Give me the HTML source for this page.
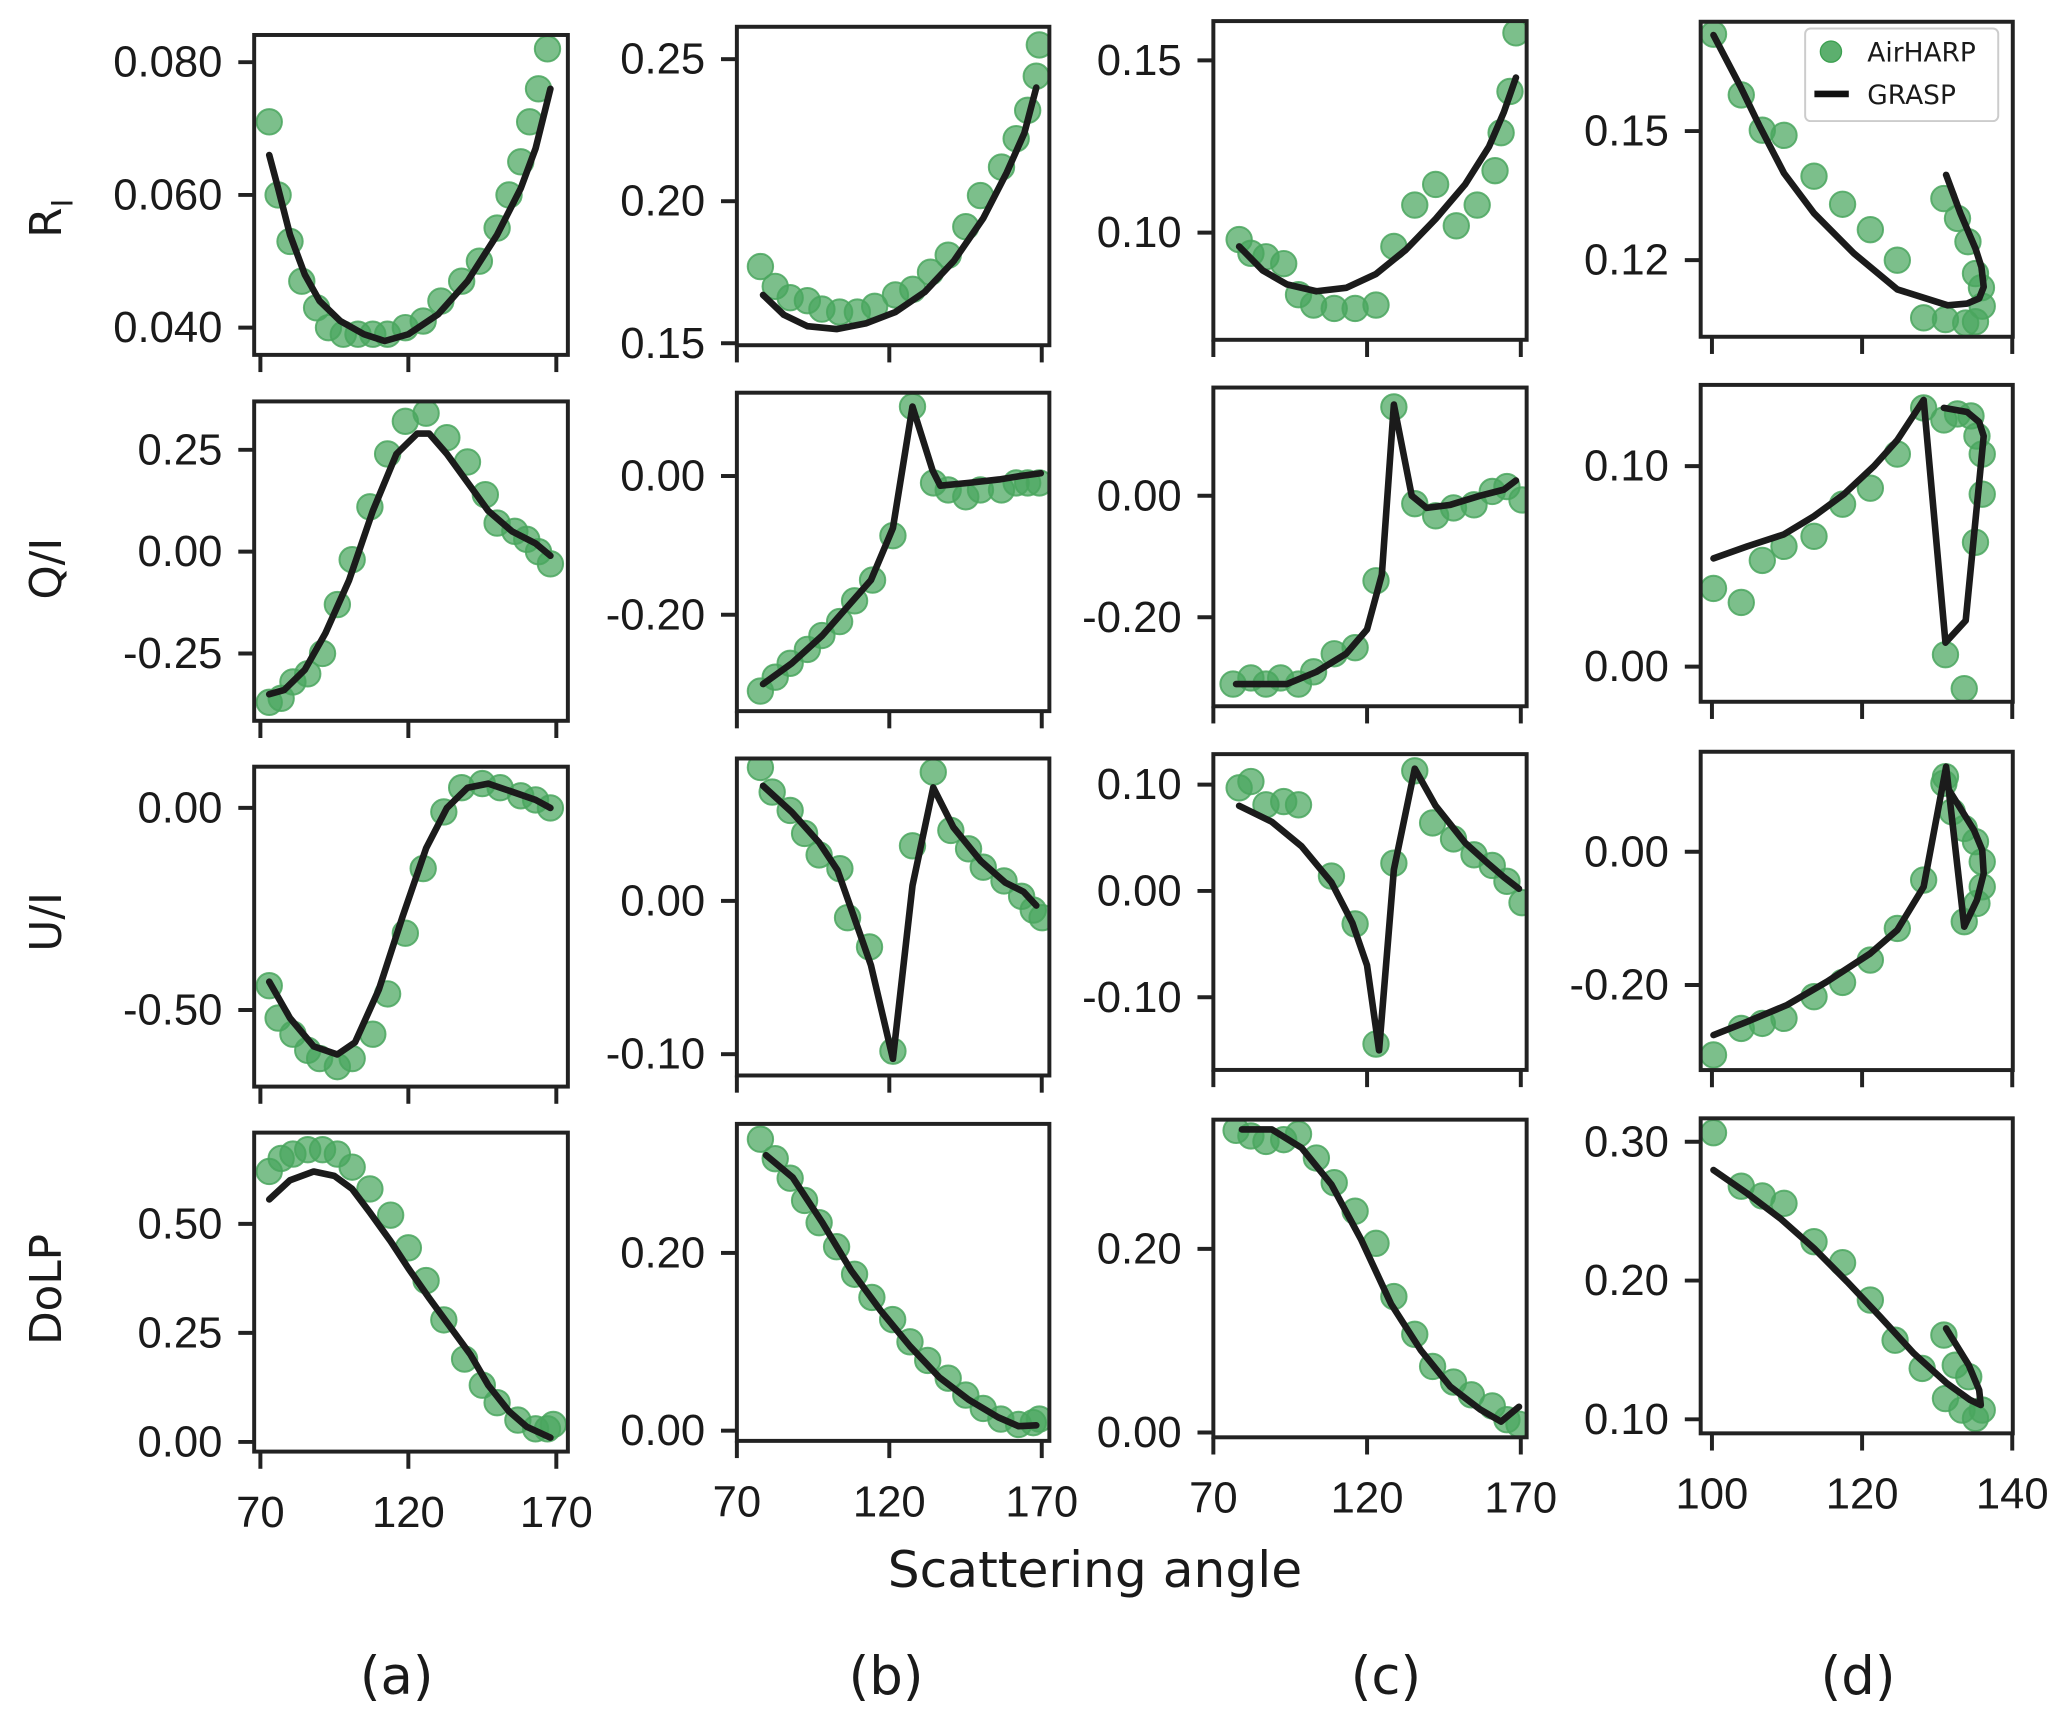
<!DOCTYPE html>
<html><head><meta charset="utf-8"><style>
html,body{margin:0;padding:0;background:#fff;}
svg{display:block;}
</style></head><body>
<svg id="fig" xmlns="http://www.w3.org/2000/svg" width="2067" height="1718" viewBox="0 0 1563 1299">
<rect x="0" y="0" width="1563" height="1299" fill="#fff"/>
</svg>
<script>
// ---------- data: columns a,b,c,d ; rows RI, Q/I, U/I, DoLP ----------
const a1PtsX=[73,76,80,84,89,93,98,103,108,113,119,125,131,138,144,150,154,158,161,164,167];
const a1PtsY=[0.071,0.060,0.053,0.047,0.043,0.040,0.039,0.039,0.039,0.039,0.040,0.041,0.044,0.047,0.050,0.055,0.060,0.065,0.071,0.076,0.082];
const a1LineX=[73,76,80,85,90,97,105,112,120,130,140,150,158,163,168];
const a1LineY=[0.066,0.061,0.054,0.048,0.044,0.041,0.039,0.038,0.039,0.042,0.047,0.054,0.061,0.067,0.076];
const a2PtsX=[73,77,81,86,91,96,101,107,113,119,126,133,140,146,150,156,160,164,168];
const a2PtsY=[-0.37,-0.36,-0.32,-0.30,-0.25,-0.13,-0.02,0.11,0.24,0.32,0.34,0.28,0.22,0.14,0.07,0.05,0.03,0.00,-0.03];
const a2LineX=[73,78,85,92,100,108,116,123,127,133,140,147,155,163,168];
const a2LineY=[-0.35,-0.34,-0.29,-0.20,-0.07,0.10,0.24,0.29,0.29,0.24,0.17,0.10,0.05,0.02,-0.01];
const a3PtsX=[73,76,81,86,90,96,101,108,113,119,125,132,138,145,151,158,163,168];
const a3PtsY=[-0.44,-0.52,-0.56,-0.60,-0.62,-0.64,-0.62,-0.56,-0.46,-0.31,-0.15,-0.01,0.05,0.06,0.05,0.03,0.02,0.00];
const a3LineX=[73,80,88,96,102,110,118,126,133,140,147,155,163,168];
const a3LineY=[-0.43,-0.52,-0.59,-0.61,-0.58,-0.45,-0.27,-0.10,0.00,0.05,0.06,0.04,0.02,0.00];
const a4PtsX=[73,77,81,86,91,96,101,107,114,120,126,132,139,145,150,157,163,167,169];
const a4PtsY=[0.62,0.65,0.66,0.67,0.67,0.66,0.63,0.58,0.52,0.445,0.37,0.28,0.19,0.13,0.09,0.05,0.03,0.03,0.04];
const a4LineX=[73,80,88,95,101,107,114,120,127,134,141,147,154,160,168];
const a4LineY=[0.556,0.60,0.62,0.61,0.58,0.526,0.46,0.398,0.33,0.265,0.20,0.13,0.07,0.035,0.01];

const b1PtsX=[77.7,82.6,87.5,93.1,97.9,103.7,109.5,115.2,122,127.7,133.5,139.3,145.1,149.9,156.8,161.6,165.4,168.2,169.2];
const b1PtsY=[0.177,0.170,0.166,0.165,0.162,0.161,0.161,0.163,0.167,0.169,0.175,0.181,0.191,0.202,0.212,0.222,0.232,0.244,0.255];
const b1LineX=[78.6,85.4,93.1,102.7,112.3,122,131.6,141.2,150.8,158.5,164.3,168.2];
const b1LineY=[0.167,0.160,0.156,0.155,0.157,0.161,0.168,0.179,0.194,0.210,0.224,0.240];
const b2PtsX=[77.7,82.6,87.5,93.1,97.9,103.7,108.6,114.5,121.2,127.6,134.5,139.3,145.1,149.9,156.8,161.6,165.4,169.2];
const b2PtsY=[-0.31,-0.29,-0.27,-0.25,-0.23,-0.21,-0.18,-0.15,-0.086,0.10,-0.01,-0.02,-0.03,-0.02,-0.02,-0.01,-0.01,-0.01];
const b2LineX=[78.6,88,98,106,114,121.2,127.6,134.2,136.7,146,156,163,169.7];
const b2LineY=[-0.30,-0.27,-0.23,-0.19,-0.15,-0.075,0.10,0.008,-0.014,-0.01,-0.005,0.0,0.004];
const b3PtsX=[77.7,81.6,87.5,92.2,97,103.8,106.3,113.5,121.2,127.6,134.4,140.2,146,150.8,157.6,163.4,167.2,170.1];
const b3PtsY=[0.087,0.071,0.059,0.044,0.030,0.021,-0.011,-0.030,-0.098,0.036,0.084,0.046,0.034,0.022,0.013,0.003,-0.006,-0.011];
const b3LineX=[78.6,88,97,103,108,114,121.2,127.6,134.4,141,150,158,164,168.2];
const b3LineY=[0.075,0.058,0.038,0.02,-0.008,-0.042,-0.103,0.010,0.074,0.048,0.026,0.012,0.006,-0.003];
const b4PtsX=[77.7,82.6,87.5,92.2,97,102.7,108.6,114.3,121.1,126.8,132.6,139.3,145.1,150.8,156.6,162.4,167.2,169.2];
const b4PtsY=[0.328,0.306,0.284,0.259,0.234,0.207,0.176,0.150,0.125,0.100,0.079,0.059,0.040,0.025,0.013,0.007,0.009,0.013];
const b4LineX=[79.6,88.3,97.9,107.5,117.2,126.8,136.4,146,155.7,162.4,168.2];
const b4LineY=[0.31,0.285,0.235,0.18,0.135,0.095,0.06,0.035,0.015,0.005,0.006];

const c1PtsX=[78.4,82.2,87.1,92.9,97.7,102.6,109.3,116.1,122.9,128.7,135.5,142.3,149,155.8,161.6,163.6,166.5,168.4];
const c1PtsY=[0.098,0.094,0.093,0.091,0.082,0.079,0.078,0.078,0.079,0.096,0.108,0.114,0.102,0.108,0.118,0.129,0.141,0.158];
const c1LineX=[78.4,86.1,93.9,103.5,113.2,122.9,132.6,142.3,151.9,159.7,164.5,168.4];
const c1LineY=[0.096,0.089,0.085,0.083,0.084,0.088,0.095,0.104,0.114,0.125,0.135,0.145];
const c2PtsX=[76.4,82.2,87.1,91.9,97.7,102.6,109.3,116.1,122.9,128.7,135.5,142.3,148.1,154.8,160.7,165.5,170.4];
const c2PtsY=[-0.31,-0.30,-0.31,-0.30,-0.31,-0.29,-0.26,-0.25,-0.14,0.146,-0.013,-0.033,-0.02,-0.015,0.007,0.015,-0.007];
const c2LineX=[77.4,84.2,93.9,103.5,113.2,120,124.8,128.7,134.5,139.4,147.1,156.8,164.5,168.4];
const c2LineY=[-0.31,-0.31,-0.31,-0.29,-0.26,-0.22,-0.13,0.15,0.00,-0.02,-0.015,0.00,0.01,0.025];
const c3PtsX=[78.4,82.2,87.1,92.9,97.7,108.4,116.1,122.9,128.7,135.5,141.3,148.1,154.8,160.7,165.5,170.4];
const c3PtsY=[0.097,0.103,0.081,0.084,0.081,0.014,-0.031,-0.144,0.026,0.113,0.064,0.049,0.034,0.024,0.009,-0.011];
const c3LineX=[78.4,89,98.7,108.4,115.2,120,123.9,128.7,135.5,142.3,152,159.7,164.5,169.4];
const c3LineY=[0.08,0.065,0.042,0.008,-0.03,-0.07,-0.15,0.02,0.115,0.08,0.045,0.025,0.013,0.002];
const c4PtsX=[77.4,82.2,87.1,92.9,97.7,103.5,109.3,116.1,122.9,128.7,135.5,141.3,148.1,153.9,160.7,165.5,169.4];
const c4PtsY=[0.329,0.323,0.317,0.319,0.325,0.299,0.272,0.241,0.206,0.148,0.107,0.072,0.055,0.041,0.029,0.014,0.009];
const c4LineX=[79.3,89,98.7,108.4,118.1,127.8,137.4,147.1,156.8,163.6,169.4];
const c4LineY=[0.33,0.33,0.31,0.27,0.21,0.14,0.09,0.05,0.025,0.012,0.028];

const d1PtsX=[100.2,103.9,106.7,109.6,113.6,117.4,121.1,124.7,128.2,131.1,133.8,135.1,136,135.9,135.1,134.1,132.7,130.9];
const d1PtsY=[0.1725,0.1584,0.1502,0.149,0.1395,0.133,0.1271,0.12,0.1066,0.1062,0.1054,0.1057,0.1093,0.1136,0.1169,0.1243,0.1297,0.1343];
const d1LineX=[100.2,103.8,106.4,109.6,113.6,118.9,124.7,131.4,134,135.6,136.2,135.9,135.1,133.1,131.2];
const d1LineY=[0.1723,0.1603,0.151,0.1402,0.1309,0.1216,0.1132,0.1095,0.1099,0.1111,0.1138,0.1184,0.1227,0.1309,0.1398];
const d2PtsX=[100.2,103.9,106.7,109.6,113.6,117.4,121.1,124.7,128.2,130.9,132.7,134.5,135.3,136,136,135.1,131.1,133.6];
const d2PtsY=[0.039,0.032,0.053,0.060,0.065,0.081,0.089,0.106,0.129,0.123,0.126,0.125,0.115,0.106,0.086,0.062,0.006,-0.011];
const d2LineX=[100.2,104.7,109.6,113.6,117.6,121.6,124.7,128.2,131.1,133.8,136.2,135.6,134,130.9];
const d2LineY=[0.054,0.060,0.066,0.075,0.086,0.100,0.113,0.133,0.012,0.023,0.115,0.122,0.127,0.129];
const d3PtsX=[100.2,103.9,106.7,109.6,113.6,117.4,121.1,124.7,128.2,131.1,130.9,132,133.6,135.1,136,136,135.3,133.6];
const d3PtsY=[-0.305,-0.265,-0.2575,-0.25,-0.2175,-0.196,-0.1625,-0.115,-0.0425,0.1125,0.1025,0.06,0.035,0.015,-0.015,-0.0525,-0.0775,-0.105];
const d3LineX=[100.2,104.7,110,115.3,121.1,124.7,128.2,131.2,133.6,135.3,136.2,136,134.9,131.3];
const d3LineY=[-0.275,-0.255,-0.23,-0.195,-0.1525,-0.1175,-0.0525,0.1275,-0.1125,-0.0725,-0.0325,0.0025,0.0325,0.0975];
const d4PtsX=[100.2,103.9,106.7,109.6,113.6,117.4,121.1,124.4,128,131.1,133.3,135.1,136,134.2,132.4,130.9];
const d4PtsY=[0.3065,0.268,0.261,0.2556,0.228,0.2128,0.186,0.157,0.1367,0.115,0.1067,0.1007,0.1067,0.1307,0.139,0.1607];
const d4LineX=[100.2,104.7,109.1,113.6,118,122.4,126.9,131.3,134.4,135.8,135.6,134.2,131.2];
const d4LineY=[0.2796,0.2628,0.2448,0.2232,0.1992,0.174,0.1475,0.1259,0.1139,0.1103,0.1211,0.1391,0.1655];

// tick values
const xTicksABC=[70,120,170];
const xTicksD=[100,120,140];
const yTicks={a1:[0.040,0.060,0.080],a2:[-0.25,0,0.25],a3:[-0.5,0],a4:[0,0.25,0.5],
 b1:[0.15,0.20,0.25],b2:[-0.2,0],b3:[-0.1,0],b4:[0,0.2],
 c1:[0.10,0.15],c2:[-0.2,0],c3:[-0.1,0,0.1],c4:[0,0.2],
 d1:[0.12,0.15],d2:[0,0.1],d3:[-0.2,0],d4:[0.1,0.2,0.3]};
const yDec={a1:3};
const xDomains={a:[67.9,173.9],b:[70,172.5],c:[70,171.9],d:[98.5,140.07]};
const yDomains={a1:[0.0359,0.0841],a2:[-0.4153,0.3688],a3:[-0.6895,0.102],a4:[-0.0221,0.7092],
 b1:[0.1493,0.2614],b2:[-0.339,0.1201],b3:[-0.1139,0.0929],b4:[-0.0115,0.3452],
 c1:[0.0689,0.1614],c2:[-0.3465,0.178],c3:[-0.1684,0.1287],c4:[-0.0052,0.3407],
 d1:[0.1022,0.1754],d2:[-0.0175,0.1405],d3:[-0.3276,0.15],d4:[0.0899,0.3169]};

// ---------- layout ----------
const colX={a:[192.2,429.4],b:[557.2,793.5],c:[917.5,1154.4],d:[1286,1522]};
const boxY={a1:[26.4,268.3],a2:[303.5,545],a3:[579.7,821.6],a4:[856.4,1097.6],
 b1:[20.2,261],b2:[296.9,537.7],b3:[573.5,813.2],b4:[849.8,1089.5],
 c1:[15.9,256.9],c2:[293,534],c3:[570.2,809],c4:[846.6,1086.8],
 d1:[16.4,254.6],d2:[291,530.6],d3:[568.4,809.1],d4:[845.6,1083.8]};

const series={a1:[a1PtsX,a1PtsY,a1LineX,a1LineY],a2:[a2PtsX,a2PtsY,a2LineX,a2LineY],a3:[a3PtsX,a3PtsY,a3LineX,a3LineY],a4:[a4PtsX,a4PtsY,a4LineX,a4LineY],
 b1:[b1PtsX,b1PtsY,b1LineX,b1LineY],b2:[b2PtsX,b2PtsY,b2LineX,b2LineY],b3:[b3PtsX,b3PtsY,b3LineX,b3LineY],b4:[b4PtsX,b4PtsY,b4LineX,b4LineY],
 c1:[c1PtsX,c1PtsY,c1LineX,c1LineY],c2:[c2PtsX,c2PtsY,c2LineX,c2LineY],c3:[c3PtsX,c3PtsY,c3LineX,c3LineY],c4:[c4PtsX,c4PtsY,c4LineX,c4LineY],
 d1:[d1PtsX,d1PtsY,d1LineX,d1LineY],d2:[d2PtsX,d2PtsY,d2LineX,d2LineY],d3:[d3PtsX,d3PtsY,d3LineX,d3LineY],d4:[d4PtsX,d4PtsY,d4LineX,d4LineY]};

const NS='http://www.w3.org/2000/svg';
const svg=document.getElementById('fig');
function mk(tag,attrs,parent){const e=document.createElementNS(NS,tag);for(const k in attrs)e.setAttribute(k,attrs[k]);(parent||svg).appendChild(e);return e;}
const TICKFONT='"Liberation Sans", Arial, sans-serif';
const LABFONT='"DejaVu Sans", "Liberation Sans", sans-serif';

function fmt(v,key){
  const d=yDec[key]||2;
  let s=Math.abs(v).toFixed(d);
  return (v<-1e-9?'-':'')+s;
}

['a','b','c','d'].forEach(col=>{
  [1,2,3,4].forEach(row=>{
    const key=col+row;
    const [x0,x1]=colX[col];
    const [y0,y1]=boxY[key];
    const [xd0,xd1]=xDomains[col];
    const [yd0,yd1]=yDomains[key];
    const sx=v=>x0+(v-xd0)/(xd1-xd0)*(x1-x0);
    const sy=v=>y1-(v-yd0)/(yd1-yd0)*(y1-y0);
    const g=mk('g',{});
    
    
    const clipId='clip-'+key;
    const cp=mk('clipPath',{id:clipId},g);
    mk('rect',{x:x0,y:y0,width:x1-x0,height:y1-y0},cp);
    const [px,py,lx,ly]=series[key];
    const pg=mk('g',{'clip-path':'url(#'+clipId+')'},g);
    
    
    for(let i=0;i<px.length;i++){
      const c=mk('circle',{cx:sx(px[i]).toFixed(1),cy:sy(py[i]).toFixed(1),r:9.6,fill:'rgba(74,166,94,0.72)',stroke:'rgba(74,166,94,0.85)','stroke-width':1.5},pg);
      
      
    }
    let d='';
    for(let i=0;i<lx.length;i++){d+=(i?'L':'M')+sx(lx[i]).toFixed(1)+' '+sy(ly[i]).toFixed(1);}
    const ln=mk('path',{d:d,fill:'none',stroke:'#1b1b1b','stroke-width':5,'stroke-linejoin':'round','stroke-linecap':'round'},g);
    
    
    const fr=mk('rect',{x:x0,y:y0,width:x1-x0,height:y1-y0,fill:'none',stroke:'#222','stroke-width':3},g);
    
    
    // y ticks
    yTicks[key].forEach(v=>{
      const yy=sy(v);
      const t=mk('line',{x1:x0-12,x2:x0,y1:yy,y2:yy,stroke:'#222','stroke-width':3},g);
      
      
      const tx=mk('text',{x:x0-24,y:yy+11,'text-anchor':'end','font-family':TICKFONT,'font-size':33,fill:'#1a1a1a'},g);
      tx.textContent=fmt(v,key);
      
      
    });
    // x ticks
    const xt=col==='d'?xTicksD:xTicksABC;
    xt.forEach(v=>{
      const xx=sx(v);
      const t=mk('line',{x1:xx,x2:xx,y1:y1,y2:y1+13,stroke:'#222','stroke-width':3},g);
      
      
      if(row===4){
        const tx=mk('text',{x:xx,y:y1+57,'text-anchor':'middle','font-family':TICKFONT,'font-size':33,fill:'#1a1a1a'},g);
        tx.textContent=String(v);
        
        
      }
    });
  });
});

// y axis titles
const yTitles=[['R',165,'y-title-ri'],['Q/I',430,'y-title-qi'],['U/I',697,'y-title-ui'],['DoLP',975,'y-title-dolp']];
yTitles.forEach(([t,yc,nm])=>{
  const tx=mk('text',{x:0,y:0,transform:'translate(46,'+yc+') rotate(-90)','text-anchor':'middle','font-family':LABFONT,'font-size':33,fill:'#1a1a1a'});
  tx.textContent=t;
  if(t==='R'){const s=mk('tspan',{'font-size':22,dy:9},tx);s.textContent='I';}
  
  
});
const xl=mk('text',{x:828,y:1200,'text-anchor':'middle','font-family':LABFONT,'font-size':38,fill:'#1a1a1a'});
xl.textContent='Scattering angle';


[['(a)',300],['(b)',670],['(c)',1048],['(d)',1405]].forEach(([t,x])=>{
  const tx=mk('text',{x:x,y:1281,'text-anchor':'middle','font-family':LABFONT,'font-size':40,fill:'#1a1a1a'});
  tx.textContent=t;
  
  
});
// legend
const lg=mk('g',{});


mk('rect',{x:1365,y:21.5,width:146,height:70,rx:4,fill:'rgba(255,255,255,0.85)',stroke:'#ccc','stroke-width':1.5},lg);
const lm=mk('circle',{cx:1384.5,cy:39,r:8,fill:'rgba(74,166,94,0.9)',stroke:'rgba(60,160,80,1)','stroke-width':1},lg);


const lt1=mk('text',{x:1412,y:46.5,'font-family':LABFONT,'font-size':20,fill:'#1a1a1a'},lg);
lt1.textContent='AirHARP';


const ll=mk('line',{x1:1372,x2:1398,y1:71,y2:71,stroke:'#111','stroke-width':5},lg);


const lt2=mk('text',{x:1412,y:78.5,'font-family':LABFONT,'font-size':20,fill:'#1a1a1a'},lg);
lt2.textContent='GRASP';


</script>
</body></html>
